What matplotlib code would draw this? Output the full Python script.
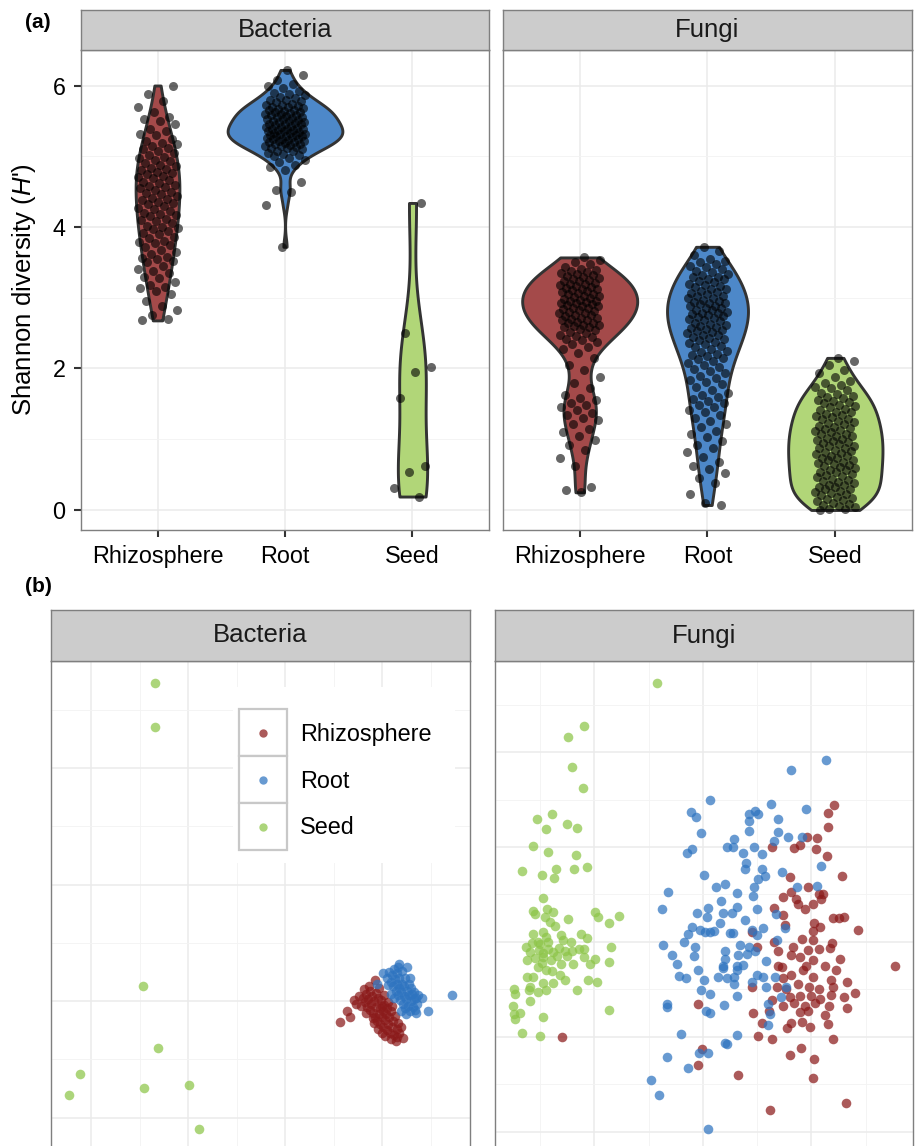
import numpy as np
import matplotlib.pyplot as plt
from matplotlib.patches import Rectangle
from matplotlib.lines import Line2D

plt.rcParams['font.family'] = ['Liberation Sans', 'DejaVu Sans']
plt.rcParams['mathtext.fontset'] = 'custom'
plt.rcParams['mathtext.rm'] = 'Liberation Sans'
plt.rcParams['mathtext.it'] = 'Liberation Sans:italic'

compartments = ['Rhizosphere', 'Root', 'Seed']
kingdoms = ['Bacteria', 'Fungi']

# ---- (a) Shannon diversity (H') per sample ----
bac_rhizo_H = [2.68, 2.70, 2.75, 2.82, 2.88, 2.95, 3.05, 3.10, 3.14, 3.15, 3.18,
               3.22, 3.28, 3.30, 3.35, 3.38, 3.40, 3.45, 3.50, 3.52, 3.55, 3.56, 3.58,
               3.62, 3.65, 3.68, 3.72, 3.75, 3.78, 3.79, 3.80, 3.84, 3.86, 3.90, 3.92,
               3.95, 3.97, 3.99, 4.00, 4.02, 4.05, 4.08, 4.10, 4.12, 4.15, 4.17, 4.19,
               4.20, 4.22, 4.25, 4.27, 4.30, 4.32, 4.34, 4.36, 4.38, 4.40, 4.41, 4.44,
               4.46, 4.48, 4.50, 4.52, 4.55, 4.57, 4.58, 4.60, 4.62, 4.64, 4.66, 4.69,
               4.70, 4.72, 4.75, 4.77, 4.78, 4.80, 4.82, 4.84, 4.86, 4.88, 4.90, 4.93,
               4.95, 4.97, 4.99, 5.02, 5.05, 5.08, 5.10, 5.12, 5.15, 5.17, 5.19, 5.22,
               5.25, 5.30, 5.32, 5.36, 5.38, 5.45, 5.50, 5.52, 5.55, 5.62, 5.70, 5.78,
               5.88, 6.00]
bac_root_H = [3.72, 4.31, 4.50, 4.52, 4.63, 4.80, 4.85, 4.88, 4.92, 4.95, 4.98, 5.00,
              5.02, 5.03, 5.05, 5.07, 5.08, 5.10, 5.11, 5.12, 5.13, 5.14, 5.15, 5.16,
              5.17, 5.18, 5.19, 5.20, 5.20, 5.21, 5.22, 5.23, 5.24, 5.25, 5.25, 5.26,
              5.27, 5.28, 5.29, 5.29, 5.30, 5.30, 5.31, 5.32, 5.33, 5.33, 5.34, 5.35,
              5.36, 5.37, 5.37, 5.38, 5.39, 5.39, 5.40, 5.41, 5.42, 5.43, 5.44, 5.45,
              5.45, 5.46, 5.47, 5.48, 5.49, 5.50, 5.50, 5.51, 5.52, 5.53, 5.54, 5.55,
              5.56, 5.57, 5.58, 5.59, 5.60, 5.60, 5.61, 5.62, 5.63, 5.64, 5.65, 5.66,
              5.67, 5.68, 5.69, 5.70, 5.71, 5.72, 5.73, 5.74, 5.76, 5.78, 5.79, 5.80,
              5.82, 5.84, 5.86, 5.88, 5.90, 5.92, 5.96, 5.99, 6.02, 6.08, 6.15, 6.22]
bac_seed_H = [4.34, 2.50, 2.02, 1.95, 1.58, 0.62, 0.54, 0.31, 0.19]

fun_rhizo_H = [0.25, 0.28, 0.33, 0.62, 0.73, 0.85, 0.92, 0.99, 1.05, 1.10, 1.15, 1.22,
               1.27, 1.30, 1.34, 1.37, 1.42, 1.45, 1.48, 1.51, 1.55, 1.58, 1.62, 1.72,
               1.79, 1.88, 1.98, 2.05, 2.15, 2.22, 2.28, 2.31, 2.34, 2.37, 2.40, 2.42,
               2.44, 2.46, 2.48, 2.50, 2.52, 2.54, 2.56, 2.58, 2.59, 2.60, 2.61, 2.62,
               2.64, 2.65, 2.66, 2.68, 2.69, 2.70, 2.71, 2.72, 2.74, 2.75, 2.76, 2.78,
               2.79, 2.80, 2.81, 2.83, 2.84, 2.85, 2.86, 2.88, 2.89, 2.90, 2.91, 2.92,
               2.93, 2.94, 2.95, 2.96, 2.97, 2.98, 3.00, 3.01, 3.02, 3.03, 3.05, 3.06,
               3.07, 3.08, 3.10, 3.11, 3.12, 3.13, 3.14, 3.15, 3.17, 3.18, 3.19, 3.20,
               3.21, 3.23, 3.24, 3.25, 3.27, 3.28, 3.29, 3.31, 3.32, 3.33, 3.35, 3.36,
               3.38, 3.39, 3.41, 3.44, 3.47, 3.50, 3.53, 3.57]
fun_root_H = [0.07, 0.10, 0.22, 0.38, 0.45, 0.52, 0.58, 0.62, 0.68, 0.75, 0.82, 0.88,
              0.92, 0.98, 1.03, 1.08, 1.12, 1.18, 1.22, 1.26, 1.30, 1.34, 1.38, 1.42,
              1.45, 1.48, 1.51, 1.54, 1.57, 1.60, 1.63, 1.66, 1.70, 1.74, 1.78, 1.81,
              1.84, 1.87, 1.90, 1.93, 1.96, 1.99, 2.02, 2.05, 2.08, 2.11, 2.13, 2.15,
              2.17, 2.19, 2.21, 2.23, 2.25, 2.28, 2.30, 2.32, 2.34, 2.36, 2.38, 2.40,
              2.42, 2.43, 2.45, 2.47, 2.48, 2.50, 2.52, 2.53, 2.55, 2.56, 2.57, 2.58,
              2.60, 2.62, 2.63, 2.65, 2.67, 2.69, 2.70, 2.72, 2.73, 2.74, 2.76, 2.77,
              2.78, 2.79, 2.80, 2.82, 2.83, 2.85, 2.86, 2.88, 2.89, 2.91, 2.92, 2.93,
              2.94, 2.95, 2.97, 2.99, 3.00, 3.02, 3.03, 3.05, 3.07, 3.08, 3.10, 3.12,
              3.13, 3.15, 3.17, 3.18, 3.20, 3.22, 3.24, 3.26, 3.27, 3.29, 3.30, 3.32,
              3.34, 3.36, 3.38, 3.41, 3.43, 3.45, 3.47, 3.50, 3.52, 3.55, 3.60, 3.66,
              3.72]
fun_seed_H = [0.00, 0.01, 0.02, 0.04, 0.05, 0.07, 0.08, 0.10, 0.12, 0.14, 0.15, 0.17,
              0.19, 0.21, 0.22, 0.24, 0.25, 0.27, 0.29, 0.30, 0.32, 0.33, 0.35, 0.36,
              0.38, 0.39, 0.41, 0.43, 0.44, 0.46, 0.48, 0.49, 0.51, 0.53, 0.54, 0.56,
              0.57, 0.59, 0.61, 0.62, 0.64, 0.65, 0.67, 0.68, 0.70, 0.71, 0.73, 0.74,
              0.76, 0.77, 0.79, 0.81, 0.82, 0.84, 0.85, 0.87, 0.88, 0.90, 0.91, 0.93,
              0.94, 0.96, 0.97, 0.99, 1.01, 1.02, 1.04, 1.05, 1.07, 1.08, 1.10, 1.11,
              1.13, 1.14, 1.16, 1.17, 1.19, 1.21, 1.23, 1.24, 1.26, 1.28, 1.29, 1.31,
              1.33, 1.34, 1.36, 1.38, 1.39, 1.41, 1.43, 1.45, 1.47, 1.49, 1.51, 1.52,
              1.54, 1.56, 1.58, 1.59, 1.61, 1.64, 1.66, 1.69, 1.72, 1.74, 1.77, 1.79,
              1.83, 1.88, 1.93, 1.98, 2.05, 2.11, 2.15]

# ---- (b) ordination scores (axis 1, axis 2) ----
bac_rhizo_pc = [(-0.087, -0.036), (-0.073, -0.018), (-0.065, -0.028), (-0.047, 0.009),
                (-0.014, 0.036), (0.043, -0.064), (-0.053, -0.005), (-0.058, 0.002),
                (-0.040, 0.005), (-0.035, -0.002), (-0.032, 0.012), (-0.030, -0.010),
                (-0.028, 0.003), (-0.025, -0.015), (-0.024, 0.018), (-0.022, -0.005),
                (-0.020, 0.008), (-0.018, -0.020), (-0.016, 0.000), (-0.015, -0.028),
                (-0.013, 0.014), (-0.012, -0.010), (-0.010, -0.035), (-0.008, 0.005),
                (-0.007, -0.022), (-0.005, -0.012), (-0.004, -0.040), (-0.002, 0.002),
                (0.000, -0.028), (0.001, -0.017), (0.003, -0.045), (0.004, -0.006),
                (0.006, -0.033), (0.008, -0.022), (0.010, -0.050), (0.011, -0.012),
                (0.013, -0.040), (0.015, -0.028), (0.017, -0.055), (0.019, -0.018),
                (0.021, -0.045), (0.023, -0.034), (0.025, -0.058), (0.027, -0.025),
                (0.030, -0.048), (0.033, -0.038), (0.036, -0.055), (0.040, -0.045),
                (-0.038, 0.020), (-0.027, 0.025), (-0.019, -0.030), (-0.009, -0.048),
                (0.000, -0.055), (0.007, -0.060), (-0.033, -0.020), (-0.044, -0.008),
                (0.018, -0.065), (0.028, -0.068), (-0.006, 0.022), (0.005, 0.010),
                (-0.001, -0.008), (0.012, -0.002), (0.020, -0.008), (-0.017, -0.038),
                (0.031, -0.062)]
bac_root_pc = [(0.144, 0.011), (0.095, -0.017), (0.071, -0.020), (0.034, 0.064),
               (0.051, 0.059), (0.003, 0.048), (-0.011, 0.030), (0.083, 0.005),
               (0.010, 0.040), (0.015, 0.050), (0.018, 0.032), (0.020, 0.045),
               (0.022, 0.025), (0.024, 0.055), (0.026, 0.038), (0.028, 0.018),
               (0.030, 0.030), (0.031, 0.048), (0.033, 0.010), (0.035, 0.022),
               (0.036, 0.040), (0.038, 0.002), (0.040, 0.015), (0.041, 0.030),
               (0.043, -0.005), (0.045, 0.008), (0.046, 0.025), (0.048, -0.012),
               (0.050, 0.003), (0.052, 0.018), (0.054, -0.008), (0.056, 0.010),
               (0.058, -0.018), (0.060, 0.000), (0.062, 0.012), (0.064, -0.010),
               (0.066, 0.004), (0.068, -0.016), (0.042, 0.052), (0.047, 0.040),
               (0.055, 0.030), (0.060, 0.022), (0.065, 0.015), (0.070, 0.005),
               (0.072, -0.005), (0.075, 0.010), (0.050, -0.022), (0.040, -0.018),
               (0.025, 0.005), (0.018, 0.012), (0.012, 0.028), (0.032, 0.058),
               (0.057, 0.040)]
bac_seed_pc = [(-0.468, 0.546), (-0.468, 0.470), (-0.492, 0.025), (-0.461, -0.080),
               (-0.623, -0.126), (-0.645, -0.162), (-0.491, -0.150), (-0.399, -0.144),
               (-0.377, -0.220)]

fun_rhizo_pc = [(0.241, 0.288), (0.230, 0.271), (0.230, 0.243), (0.192, 0.222), (0.211, 0.218),
                (0.179, 0.205), (0.168, 0.197), (0.128, 0.201), (0.208, 0.196), (0.229, 0.181),
                (0.256, 0.139), (0.160, 0.136), (0.163, 0.106), (0.148, 0.095), (0.171, 0.090),
                (0.194, 0.115), (0.214, 0.102), (0.222, 0.102), (0.176, 0.080), (0.188, 0.069),
                (0.202, 0.080), (0.218, 0.090), (0.131, 0.071), (0.148, 0.057), (0.239, 0.050),
                (0.251, 0.050), (0.260, 0.052), (0.151, 0.036), (0.205, 0.039), (0.215, 0.032),
                (0.202, 0.024), (0.286, 0.025), (0.090, 0.020), (0.130, 0.001), (0.182, 0.006),
                (0.203, 0.004), (0.237, -0.003), (0.099, -0.011), (0.139, -0.018), (0.165, -0.011),
                (0.194, -0.017), (0.214, -0.015), (0.235, -0.013), (0.163, -0.027), (0.179, -0.032),
                (0.202, -0.038), (0.225, -0.051), (0.253, -0.036), (0.354, -0.051), (0.139, -0.051),
                (0.190, -0.051), (0.145, -0.052), (0.185, -0.059), (0.246, -0.059), (0.163, -0.069),
                (0.202, -0.074), (0.148, -0.076), (0.236, -0.079), (0.265, -0.084), (0.176, -0.088),
                (0.196, -0.094), (0.213, -0.098), (0.240, -0.094), (0.090, -0.094), (0.136, -0.095),
                (0.153, -0.098), (0.280, -0.107), (0.236, -0.112), (0.200, -0.114), (0.216, -0.119),
                (0.179, -0.114), (0.160, -0.115), (0.128, -0.122), (0.259, -0.115), (0.148, -0.135),
                (0.168, -0.129), (0.188, -0.135), (0.207, -0.129), (0.233, -0.135), (0.265, -0.140),
                (-0.010, -0.130), (0.179, -0.147), (0.194, -0.145), (0.225, -0.154), (0.092, -0.150),
                (0.122, -0.145), (0.108, -0.171), (0.182, -0.168), (0.162, -0.170), (0.155, -0.182),
                (0.197, -0.180), (0.231, -0.173), (-0.259, -0.201), (0.101, -0.198), (0.127, -0.205),
                (0.239, -0.205), (-0.001, -0.226), (0.180, -0.223), (0.160, -0.238), (0.205, -0.246),
                (-0.009, -0.259), (0.065, -0.280), (0.203, -0.287), (0.264, -0.338), (0.124, -0.354)]
fun_root_pc = [(0.226, 0.383), (0.162, 0.362), (0.012, 0.300), (-0.023, 0.273), (-0.012, 0.264),
               (0.084, 0.269), (0.096, 0.276), (0.101, 0.269), (0.126, 0.291), (0.190, 0.281),
               (0.138, 0.260), (0.084, 0.255), (-0.003, 0.230), (0.084, 0.234), (0.139, 0.232),
               (0.131, 0.213), (0.157, 0.222), (0.183, 0.222), (0.058, 0.216), (0.045, 0.199),
               (0.056, 0.201), (0.073, 0.187), (0.094, 0.201), (0.108, 0.185), (-0.021, 0.196),
               (-0.030, 0.187), (0.079, 0.166), (0.077, 0.153), (0.108, 0.153), (0.114, 0.139),
               (0.146, 0.148), (0.218, 0.159), (0.002, 0.141), (0.102, 0.132), (0.041, 0.122),
               (0.024, 0.116), (0.094, 0.115), (0.174, 0.116), (0.210, 0.118), (-0.064, 0.106),
               (0.063, 0.104), (0.093, 0.097), (0.034, 0.087), (-0.076, 0.069), (0.063, 0.074),
               (0.010, 0.071), (-0.011, 0.060), (0.036, 0.060), (0.053, 0.060), (0.099, 0.069),
               (0.135, 0.059), (0.007, 0.052), (0.077, 0.046), (0.031, 0.041), (-0.021, 0.032),
               (-0.027, 0.017), (-0.006, 0.025), (0.004, 0.022), (0.013, 0.022), (0.020, 0.024),
               (0.049, 0.018), (0.056, 0.018), (0.091, 0.025), (0.111, 0.029), (0.151, 0.029),
               (0.099, 0.015), (-0.035, -0.001), (-0.073, -0.006), (-0.015, -0.011), (0.069, -0.006),
               (0.085, -0.011), (0.096, -0.020), (0.136, 0.004), (0.041, -0.020), (-0.058, -0.027),
               (-0.017, -0.029), (0.064, -0.027), (0.081, -0.025), (0.041, -0.036), (0.117, -0.041),
               (-0.047, -0.046), (0.037, -0.051), (0.063, -0.051), (0.074, -0.048), (0.036, -0.055),
               (-0.010, -0.058), (0.062, -0.058), (-0.044, -0.072), (-0.032, -0.076), (0.002, -0.079),
               (0.027, -0.073), (0.044, -0.076), (0.058, -0.073), (0.100, -0.069), (0.111, -0.074),
               (0.133, -0.074), (0.091, -0.084), (0.058, -0.088), (0.116, -0.094), (0.153, -0.095),
               (-0.004, -0.102), (0.013, -0.109), (0.063, -0.114), (0.144, -0.115), (-0.067, -0.131),
               (-0.067, -0.136), (0.039, -0.133), (0.006, -0.145), (0.013, -0.149), (0.119, -0.131),
               (0.124, -0.152), (0.119, -0.175), (-0.041, -0.194), (0.062, -0.196), (0.041, -0.212),
               (0.045, -0.215), (-0.066, -0.243), (-0.007, -0.234), (0.010, -0.233), (-0.028, -0.266),
               (-0.096, -0.291), (-0.082, -0.322), (0.010, -0.394)]
fun_seed_pc = [(-0.084, 0.545), (-0.219, 0.455), (-0.248, 0.432), (-0.241, 0.369), (-0.221, 0.324),
               (-0.278, 0.269), (-0.306, 0.258), (-0.289, 0.238), (-0.251, 0.248), (-0.232, 0.239),
               (-0.314, 0.202), (-0.286, 0.189), (-0.235, 0.184), (-0.333, 0.150), (-0.297, 0.142),
               (-0.275, 0.135), (-0.271, 0.153), (-0.237, 0.153), (-0.213, 0.157), (-0.294, 0.093),
               (-0.313, 0.066), (-0.310, 0.058), (-0.287, 0.069), (-0.277, 0.063), (-0.291, 0.053),
               (-0.282, 0.043), (-0.273, 0.034), (-0.248, 0.048), (-0.199, 0.064), (-0.193, 0.052),
               (-0.173, 0.039), (-0.154, 0.055), (-0.314, 0.017), (-0.294, 0.020), (-0.290, 0.011),
               (-0.225, 0.017), (-0.214, 0.008), (-0.258, 0.004), (-0.244, 0.000), (-0.326, -0.011),
               (-0.315, -0.003), (-0.302, -0.017), (-0.294, -0.024), (-0.285, -0.015), (-0.276, -0.022),
               (-0.265, -0.013), (-0.254, -0.018), (-0.242, -0.020), (-0.228, -0.015), (-0.219, -0.015),
               (-0.170, -0.011), (-0.325, -0.038), (-0.310, -0.034), (-0.295, -0.031), (-0.280, -0.038),
               (-0.262, -0.046), (-0.240, -0.046), (-0.220, -0.032), (-0.209, -0.046), (-0.199, -0.036),
               (-0.173, -0.042), (-0.304, -0.053), (-0.289, -0.058), (-0.279, -0.062), (-0.264, -0.069),
               (-0.324, -0.073), (-0.314, -0.074), (-0.254, -0.081), (-0.212, -0.081), (-0.195, -0.084),
               (-0.319, -0.094), (-0.295, -0.087), (-0.277, -0.086), (-0.348, -0.100), (-0.346, -0.109),
               (-0.320, -0.102), (-0.304, -0.105), (-0.289, -0.101), (-0.232, -0.102), (-0.318, -0.124),
               (-0.350, -0.135), (-0.349, -0.152), (-0.346, -0.163), (-0.338, -0.149), (-0.295, -0.157),
               (-0.174, -0.143), (-0.333, -0.191), (-0.300, -0.198), (-0.300, -0.005), (-0.285, 0.000),
               (-0.270, -0.030), (-0.305, 0.000), (-0.262, 0.015), (-0.296, -0.045), (-0.250, -0.030),
               (-0.318, -0.022)]

violin_fill = ['#A44A4A', '#4D88C9', '#B1D678']
point_col = ['#8B1A1A', '#2E74C0', '#8DC548']

W, H = 920, 1146


def box(l, t, r, b):
    return [l / W, 1 - b / H, (r - l) / W, (b - t) / H]


def strip(rect, label, size):
    s = fig.add_axes(rect)
    s.set_facecolor('#CCCCCC')
    s.set_xticks([])
    s.set_yticks([])
    for sp in s.spines.values():
        sp.set_color('#7F7F7F')
        sp.set_linewidth(1.0)
    s.text(0.5, 0.5, label, ha='center', va='center', fontsize=size, color='#1A1A1A',
           transform=s.transAxes)


def kde(vals):
    v = np.asarray(vals, dtype=float)
    n = len(v)
    q75, q25 = np.percentile(v, [75, 25])
    bw = 0.9 * min(v.std(ddof=1), (q75 - q25) / 1.34) * n ** -0.2
    grid = np.linspace(v.min(), v.max(), 512)
    d = np.exp(-0.5 * ((grid[:, None] - v[None, :]) / bw) ** 2).sum(1) / (n * bw * np.sqrt(2 * np.pi))
    return grid, d


def jitter(n, width, phase):
    return width * (2 * ((np.arange(n) * 0.618034 + phase) % 1) - 1)


def style_grid(ax):
    ax.set_axisbelow(True)
    ax.grid(which='major', color='#EBEBEB', lw=1.1)
    ax.grid(which='minor', color='#F3F3F3', lw=0.6)
    for sp in ax.spines.values():
        sp.set_color('#7F7F7F')
        sp.set_linewidth(1.0)


fig = plt.figure(figsize=(W / 100, H / 100), dpi=100)

# ---------- panel (a) ----------
a_data = {'Bacteria': [bac_rhizo_H, bac_root_H, bac_seed_H],
          'Fungi': [fun_rhizo_H, fun_root_H, fun_seed_H]}
a_rects = {'Bacteria': (81, 489), 'Fungi': (503, 912)}

for k, kingdom in enumerate(kingdoms):
    l, r = a_rects[kingdom]
    ax = fig.add_axes(box(l, 50, r, 530))
    strip(box(l, 10, r, 50), kingdom, 18.5)
    style_grid(ax)
    groups = a_data[kingdom]
    dens = [kde(g) for g in groups]
    dmax = max(d.max() for _, d in dens)
    for i, (g, (yy, d)) in enumerate(zip(groups, dens)):
        hw = 0.45 * d / dmax
        ax.fill_betweenx(yy, i + 1 - hw, i + 1 + hw, facecolor=violin_fill[i],
                         edgecolor='#333333', lw=2.1, zorder=2)
        jx = jitter(len(g), 0.16, 0.13 + 0.29 * i + 0.41 * k)
        ax.scatter(i + 1 + jx, g, s=42, c='black', alpha=0.6, lw=0, zorder=3)
    ax.set_xlim(0.4, 3.6)
    ax.set_ylim(-0.283, 6.502)
    ax.set_xticks([1, 2, 3])
    ax.set_xticklabels(compartments)
    ax.set_yticks([0, 2, 4, 6])
    ax.set_yticks([1, 3, 5], minor=True)
    ax.tick_params(which='major', length=5, width=1.5, color='#333333',
                   labelsize=16.8, labelcolor='black', pad=6)
    ax.tick_params(which='minor', length=0)
    if k == 1:
        ax.tick_params(axis='y', length=0, labelleft=False)

fig.text(24 / W, 1 - 290 / H, "Shannon diversity ($\\mathit{H}$')", rotation=90,
         ha='center', va='center', fontsize=18.5)
fig.text(25 / W, 1 - 22 / H, '(a)', ha='left', va='center', fontsize=15, fontweight='bold')
fig.text(25 / W, 1 - 587 / H, '(b)', ha='left', va='center', fontsize=15, fontweight='bold')

# ---------- panel (b) ----------
b_data = {'Bacteria': [bac_rhizo_pc, bac_root_pc, bac_seed_pc],
          'Fungi': [fun_rhizo_pc, fun_root_pc, fun_seed_pc]}
b_rects = {'Bacteria': (51, 470), 'Fungi': (495, 913)}
b_lims = {'Bacteria': ((-0.6825, 0.1814), (-0.2489, 0.5837)),
          'Fungi': ((-0.3834, 0.3871), (-0.4295, 0.5916))}
b_xt = {'Bacteria': ([-0.6, -0.4, -0.2, 0.0], [-0.5, -0.3, -0.1, 0.1]),
        'Fungi': ([-0.2, 0.0, 0.2], [-0.3, -0.1, 0.1, 0.3])}
b_yt = {'Bacteria': ([-0.2, 0.0, 0.2, 0.4], [-0.1, 0.1, 0.3, 0.5]),
        'Fungi': ([-0.4, -0.2, 0.0, 0.2, 0.4], [-0.3, -0.1, 0.1, 0.3, 0.5])}

for kingdom in kingdoms:
    l, r = b_rects[kingdom]
    ax = fig.add_axes(box(l, 661, r, H))
    strip(box(l, 610, r, 661), kingdom, 18.5)
    style_grid(ax)
    ax.spines['bottom'].set_visible(False)
    for i, pts in enumerate(b_data[kingdom]):
        p = np.array(pts)
        ax.scatter(p[:, 0], p[:, 1], s=48, c=point_col[i], alpha=0.72, lw=0, zorder=3)
    (x0, x1), (y0, y1) = b_lims[kingdom]
    ax.set_xlim(x0, x1)
    ax.set_ylim(y0, y1)
    ax.set_xticks(b_xt[kingdom][0])
    ax.set_xticks(b_xt[kingdom][1], minor=True)
    ax.set_yticks(b_yt[kingdom][0])
    ax.set_yticks(b_yt[kingdom][1], minor=True)
    ax.tick_params(which='both', length=0, labelbottom=False, labelleft=False)

# legend inside the Bacteria ordination panel
fig.add_artist(Rectangle((233 / W, 1 - 863 / H), (455 - 233) / W, (863 - 687) / H,
                         transform=fig.transFigure, fc='white', ec='none', zorder=1))
key_tops = [709, 756, 803]
label_y = [735, 782, 827]
for i, name in enumerate(compartments):
    t = key_tops[i]
    fig.add_artist(Rectangle((239 / W, 1 - (t + 47) / H), 48 / W, 47 / H,
                             transform=fig.transFigure, fc='white', ec='#C8C8C8',
                             lw=1.6, zorder=2))
    fig.add_artist(Line2D([263 / W], [1 - (t + 23.5) / H], marker='o', ms=6, ls='none',
                          color=point_col[i], alpha=0.72, mew=0,
                          transform=fig.transFigure, zorder=3))
    fig.text(300 / W, 1 - label_y[i] / H, name, ha='left', va='center', fontsize=16.8,
             zorder=3)

fig.savefig('out.png', dpi=100)
